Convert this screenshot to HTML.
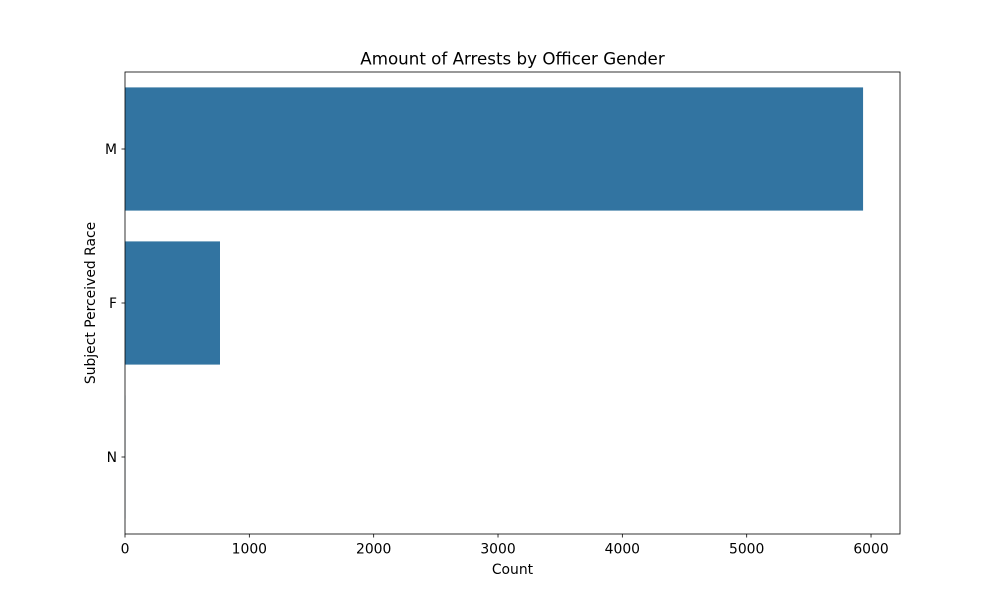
<!DOCTYPE html>
<html><head><meta charset="utf-8"><style>
body{margin:0;background:#fff;font-family:"Liberation Sans","DejaVu Sans",sans-serif}
svg text{font-family:"DejaVu Sans","Liberation Sans",sans-serif}
</style></head><body>
<svg id="chart" width="1000" height="600" xmlns="http://www.w3.org/2000/svg">
<rect width="1000" height="600" fill="#fff"/>
</svg>
<script>
const categories = ["M", "F", "N"];
const counts = [5936, 764, 2];
const xTicks = [0, 1000, 2000, 3000, 4000, 5000, 6000];
const xMaxValue = 6233;

const svg = document.getElementById('chart');
const NS = 'http://www.w3.org/2000/svg';
const L = 125, R = 900, T = 72, B = 534;
const x = v => L + (v / xMaxValue) * (R - L);
const step = (B - T) / categories.length;
const yc = i => T + step * (i + 0.5);
function mk(tag, attrs, txt) {
  const e = document.createElementNS(NS, tag);
  for (const k in attrs) e.setAttribute(k, attrs[k]);
  if (txt !== undefined) e.textContent = txt;
  svg.appendChild(e);
  return e;
}
categories.forEach((c, i) => {
  const r = mk('rect', {x: L, y: yc(i) - step * 0.4, width: x(counts[i]) - L, height: step * 0.8, fill: '#3274a1'});
  
  
  const t = mk('line', {x1: L - 3.5, x2: L, y1: yc(i), y2: yc(i), stroke: '#000', 'stroke-width': 0.8});
  
  
  const lb = mk('text', {x: L - 8, y: yc(i) + 5, 'text-anchor': 'end', 'font-size': 13.9}, c);
  
  
});
xTicks.forEach(v => {
  const t = mk('line', {x1: x(v), x2: x(v), y1: B, y2: B + 3.5, stroke: '#000', 'stroke-width': 0.8});
  
  
  const lb = mk('text', {x: x(v), y: B + 19.5, 'text-anchor': 'middle', 'font-size': 13.9}, String(v));
  
  
});
const frame = mk('rect', {x: L, y: T, width: R - L, height: B - T, fill: 'none', stroke: '#000', 'stroke-width': 0.8});


const title = mk('text', {x: (L + R) / 2, y: 64.5, 'text-anchor': 'middle', 'font-size': 16.7}, 'Amount of Arrests by Officer Gender');


const xt = mk('text', {x: (L + R) / 2, y: 574, 'text-anchor': 'middle', 'font-size': 13.9}, 'Count');


const yt = mk('text', {x: 0, y: 0, 'text-anchor': 'middle', 'font-size': 13.9, transform: 'translate(95,' + (T + B) / 2 + ') rotate(-90)'}, 'Subject Perceived Race');


</script>
</body></html>
